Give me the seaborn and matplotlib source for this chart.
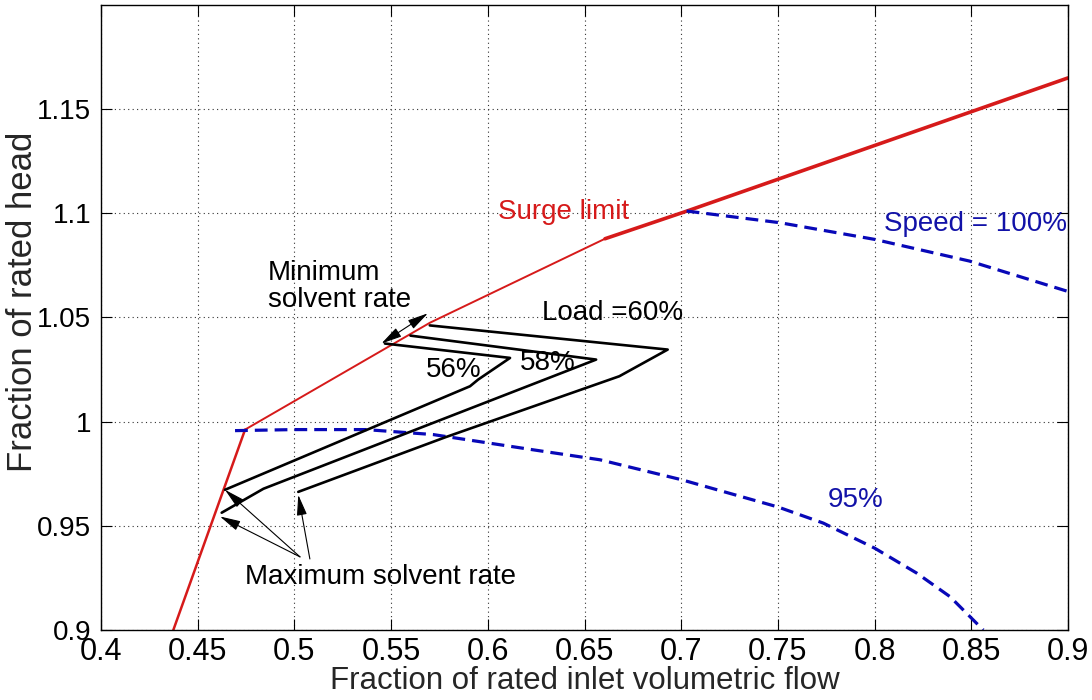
import matplotlib
matplotlib.use("Agg")
import matplotlib.pyplot as plt
import seaborn as sns
import pandas as pd

# ---- data ----
surge_x = [0.4374, 0.4745, 0.5701, 0.6606, 0.7030, 0.90]
surge_y = [0.900, 0.9962, 1.0475, 1.0878, 1.1011, 1.165]

speed100_x = [0.7028, 0.751, 0.800, 0.849, 0.900]
speed100_y = [1.1011, 1.0955, 1.0875, 1.0771, 1.0625]

speed95_x = [0.4693, 0.500, 0.537, 0.5718, 0.6234, 0.658, 0.7003, 0.7502, 0.7735, 0.800, 0.8218, 0.839, 0.8562]
speed95_y = [0.9957, 0.9962, 0.9962, 0.9938, 0.9865, 0.9817, 0.9721, 0.959, 0.9513, 0.9393, 0.9273, 0.916, 0.900]

load60_x = [0.570, 0.693, 0.668, 0.578, 0.502]
load60_y = [1.0462, 1.0346, 1.0218, 0.9925, 0.9663]
load58_x = [0.560, 0.656, 0.484, 0.4624]
load58_y = [1.0413, 1.0298, 0.9678, 0.9563]
load56_x = [0.5468, 0.6115, 0.595, 0.5908, 0.4641]
load56_y = [1.0375, 1.0306, 1.0202, 1.017, 0.9673]

x_ticks = [0.4, 0.45, 0.5, 0.55, 0.6, 0.65, 0.7, 0.75, 0.8, 0.85, 0.9]
y_ticks = [0.9, 0.95, 1.0, 1.05, 1.1, 1.15]
x_ticklabels = ["0.4", "0.45", "0.5", "0.55", "0.6", "0.65", "0.7", "0.75", "0.8", "0.85", "0.9"]
y_ticklabels = ["0.9", "0.95", "1", "1.05", "1.1", "1.15"]

# annotation arrows (tail -> head)
max_arrow_tails = [(0.5029, 0.9351), (0.5029, 0.9351), (0.508, 0.9341)]
max_arrow_heads = [(0.4641, 0.9673), (0.4615, 0.9545), (0.502, 0.9649)]
min_arrow = [(0.545, 1.0375), (0.569, 1.052)]

RED = "#d61a1a"
BLUE = "#0808b8"
TBLUE = "#1212a8"

sns.set_style("white")
plt.rcParams["font.family"] = ["Liberation Sans", "DejaVu Sans"]

fig = plt.figure(figsize=(10.92, 7.0), dpi=100)
ax = fig.add_axes([101 / 1092, 1 - 630 / 700, (1068 - 101) / 1092, (630 - 5) / 700])

def line(xs, ys, **kw):
    df = pd.DataFrame({"x": xs, "y": ys})
    sns.lineplot(data=df, x="x", y="y", sort=False, estimator=None, ax=ax, **kw)

# surge limit (thin lower part, thicker upper part)
line(surge_x[:2], surge_y[:2], color=RED, lw=1.8)
line(surge_x[1:4], surge_y[1:4], color=RED, lw=1.4)
line(surge_x[3:], surge_y[3:], color=RED, lw=2.6)

# speed curves
line(speed100_x, speed100_y, color=BLUE, lw=2.3)
line(speed95_x, speed95_y, color=BLUE, lw=2.3)
for l in ax.lines[-2:]:
    l.set_linestyle((0, (4, 2.2)))

# load paths
line(load60_x, load60_y, color="black", lw=1.9)
line(load58_x, load58_y, color="black", lw=1.9)
line(load56_x, load56_y, color="black", lw=1.9)

# arrows
for t, h in zip(max_arrow_tails, max_arrow_heads):
    ax.annotate("", xy=h, xytext=t,
                arrowprops=dict(arrowstyle="-|>,head_length=0.9,head_width=0.22",
                                color="black", lw=0.8, shrinkA=0, shrinkB=0, mutation_scale=14))
ax.annotate("", xy=min_arrow[0], xytext=min_arrow[1],
            arrowprops=dict(arrowstyle="<|-|>,head_length=0.9,head_width=0.22",
                            color="black", lw=0.8, shrinkA=0, shrinkB=0, mutation_scale=14))

# texts
ax.text(0.6391, 1.1005, "Surge limit", color=RED, fontsize=20, ha="center", va="center")
ax.text(0.8995, 1.0947, "Speed = 100%", color=TBLUE, fontsize=20, ha="right", va="center")
ax.text(0.7904, 0.9625, "95%", color=TBLUE, fontsize=20, ha="center", va="center")
ax.text(0.6647, 1.0520, "Load =60%", color="black", fontsize=20, ha="center", va="center")
ax.text(0.5822, 1.0250, "56%", color="black", fontsize=20, ha="center", va="center")
ax.text(0.6309, 1.0282, "58%", color="black", fontsize=20, ha="center", va="center")
ax.text(0.4864, 1.0647, "Minimum\nsolvent rate", color="black", fontsize=20,
        ha="left", va="center", linespacing=1.05)
ax.text(0.5447, 0.9256, "Maximum solvent rate", color="black", fontsize=20, ha="center", va="center")

ax.set_xlim(0.4, 0.9)
ax.set_ylim(0.9, 1.2)
ax.set_xticks(x_ticks)
ax.set_xticklabels(x_ticklabels)
ax.set_yticks(y_ticks)
ax.set_yticklabels(y_ticklabels)
ax.tick_params(axis="both", direction="in", length=8, width=0.8,
               top=True, right=True, bottom=True, left=True, colors="black")
ax.tick_params(axis="x", labelsize=22, pad=5)
ax.tick_params(axis="y", labelsize=20, pad=7)
ax.grid(True, linestyle=(0, (1, 3)), color="#333333", lw=0.8)
for s in ax.spines.values():
    s.set_visible(True)
    s.set_color("black")
    s.set_linewidth(1.0)

ax.set_xlabel("Fraction of rated inlet volumetric flow", fontsize=22.5)
ax.xaxis.set_label_coords(0.5, -0.058)
ax.xaxis.label.set_va("top")
ax.set_ylabel("Fraction of rated head", fontsize=25)
ax.yaxis.set_label_coords(-0.081, 0.525)
ax.yaxis.label.set_va("center")

fig.savefig("out.png", dpi=100)
